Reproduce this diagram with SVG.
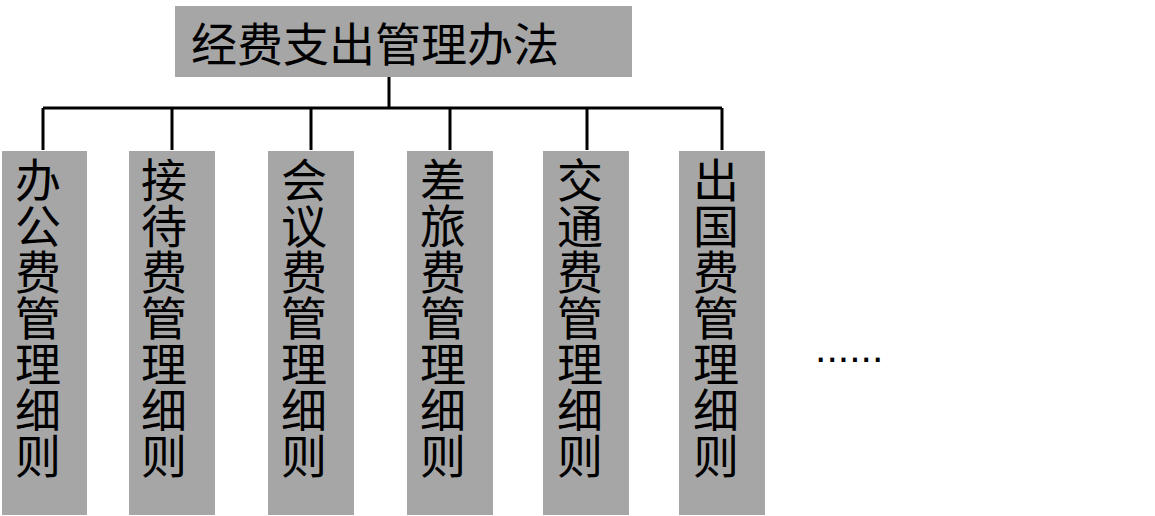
<svg xmlns="http://www.w3.org/2000/svg" width="1155" height="516" viewBox="0 0 1155 516">
<style>
.box{fill:#A6A6A6;}
.t{font-family:"Noto Sans CJK SC","Noto Sans",sans-serif;font-size:46px;fill:#000;}
.v{font-family:"Noto Sans CJK SC","Noto Sans",sans-serif;font-size:46px;fill:#000;text-anchor:middle;}
.c{stroke:#000;stroke-width:3;fill:none;}
</style>
<rect width="1155" height="516" fill="#fff"/>
<g id="connectors">
<path class="c" d="M389,77 V108 M43,108 H722 M43,108 V150 M172,108 V150 M311,108 V150 M450,108 V150 M587,108 V150 M722,108 V150"/>
</g>
<g id="root">
<rect class="box" x="175" y="6" width="457" height="71"/>
<text class="t" x="191" y="61">经费支出管理办法</text>
</g>
<g id="n1">
<rect class="box" x="2" y="151" width="85" height="364"/>
<text class="v"><tspan x="38" y="197">办</tspan><tspan x="38" dy="46">公</tspan><tspan x="38" dy="46">费</tspan><tspan x="38" dy="46">管</tspan><tspan x="38" dy="46">理</tspan><tspan x="38" dy="46">细</tspan><tspan x="38" dy="46">则</tspan></text>
</g>
<g id="n2">
<rect class="box" x="129" y="151" width="86" height="364"/>
<text class="v"><tspan x="164" y="197">接</tspan><tspan x="164" dy="46">待</tspan><tspan x="164" dy="46">费</tspan><tspan x="164" dy="46">管</tspan><tspan x="164" dy="46">理</tspan><tspan x="164" dy="46">细</tspan><tspan x="164" dy="46">则</tspan></text>
</g>
<g id="n3">
<rect class="box" x="268" y="151" width="86" height="364"/>
<text class="v"><tspan x="304" y="197">会</tspan><tspan x="304" dy="46">议</tspan><tspan x="304" dy="46">费</tspan><tspan x="304" dy="46">管</tspan><tspan x="304" dy="46">理</tspan><tspan x="304" dy="46">细</tspan><tspan x="304" dy="46">则</tspan></text>
</g>
<g id="n4">
<rect class="box" x="407" y="151" width="86" height="364"/>
<text class="v"><tspan x="443" y="197">差</tspan><tspan x="443" dy="46">旅</tspan><tspan x="443" dy="46">费</tspan><tspan x="443" dy="46">管</tspan><tspan x="443" dy="46">理</tspan><tspan x="443" dy="46">细</tspan><tspan x="443" dy="46">则</tspan></text>
</g>
<g id="n5">
<rect class="box" x="543" y="151" width="86" height="364"/>
<text class="v"><tspan x="580" y="197">交</tspan><tspan x="580" dy="46">通</tspan><tspan x="580" dy="46">费</tspan><tspan x="580" dy="46">管</tspan><tspan x="580" dy="46">理</tspan><tspan x="580" dy="46">细</tspan><tspan x="580" dy="46">则</tspan></text>
</g>
<g id="n6">
<rect class="box" x="679" y="151" width="86" height="364"/>
<text class="v"><tspan x="716" y="197">出</tspan><tspan x="716" dy="46">国</tspan><tspan x="716" dy="46">费</tspan><tspan x="716" dy="46">管</tspan><tspan x="716" dy="46">理</tspan><tspan x="716" dy="46">细</tspan><tspan x="716" dy="46">则</tspan></text>
</g>
<g id="more">
<text x="815" y="362" font-family="Liberation Sans, sans-serif" font-size="41" fill="#000">......</text>
</g>
</svg>
